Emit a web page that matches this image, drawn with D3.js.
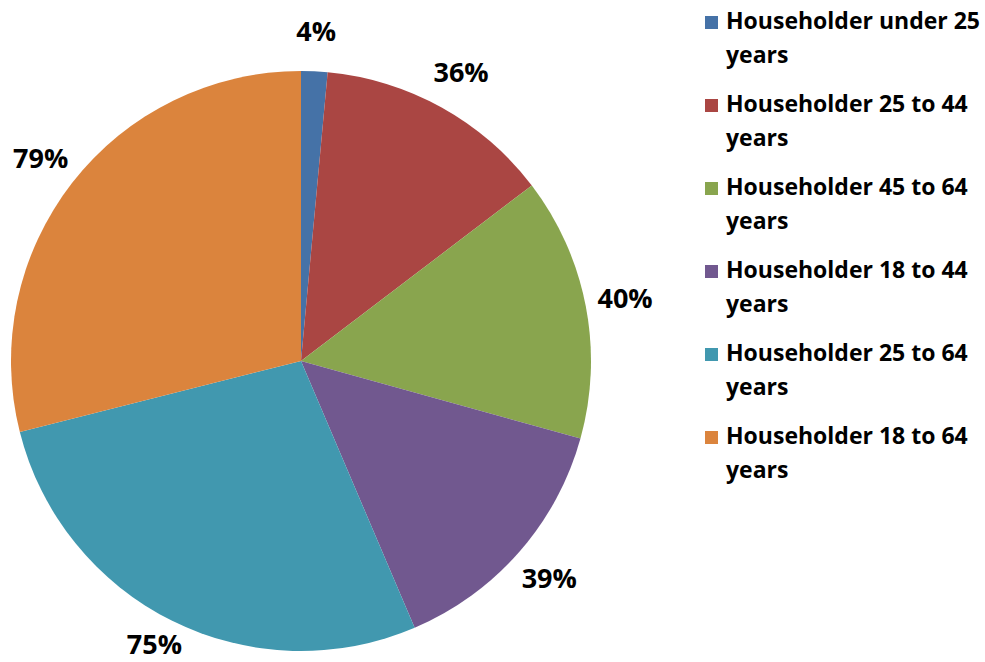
<!DOCTYPE html>
<html>
<head>
<meta charset="utf-8">
<script src="https://cdn.jsdelivr.net/npm/d3@7/dist/d3.min.js"></script>
<style>
  html, body { margin: 0; padding: 0; background: #fff; }
  svg { display: block; }
  text { font-family: "Open Sans", "Liberation Sans", sans-serif; font-weight: bold; fill: #000; }
</style>
</head>
<body>
<svg id="chart" width="985" height="662"></svg>
<script>
const categories = [
  "Householder under 25 years",
  "Householder 25 to 44 years",
  "Householder 45 to 64 years",
  "Householder 18 to 44 years",
  "Householder 25 to 64 years",
  "Householder 18 to 64 years"
];
const values = [4, 36, 40, 39, 75, 79];
const labels = ["4%", "36%", "40%", "39%", "75%", "79%"];
const colors = ["#4572A7", "#AA4643", "#89A54E", "#71588F", "#4198AF", "#DB843D"];

const W = 985, H = 662;
const svg = d3.select("#chart");
const cx = 301, cy = 361, R = 290;

const data = categories.map((c, i) => ({ name: c, value: values[i], label: labels[i], color: colors[i] }));

const pie = d3.pie().value(d => d.value).sort(null);
const arcs = pie(data);
const arc = d3.arc().innerRadius(0).outerRadius(R);
const labelArc = d3.arc().innerRadius(330).outerRadius(330);

const g = svg.append("g").attr("transform", `translate(${cx},${cy})`);
g.selectAll("path").data(arcs).join("path")
  .attr("d", arc)
  .attr("fill", d => d.data.color);

const fs = 27;
g.selectAll("text.lbl").data(arcs).join("text")
  .attr("class", "lbl")
  .attr("text-anchor", "middle")
  .style("font-size", fs + "px")
  .attr("x", d => labelArc.centroid(d)[0])
  .attr("y", d => {
    const base = labelArc.centroid(d)[1] + fs * 0.36;
    const maxBase = H - cy - fs * 0.3;
    return Math.min(base, maxBase);
  })
  .text(d => d.data.label);

// legend
const legend = svg.append("g").attr("transform", "translate(705,0)");
const entryStep = 83, lineStep = 34, firstBase = 29;
const items = legend.selectAll("g").data(data).join("g")
  .attr("transform", (d, i) => `translate(0,${firstBase + i * entryStep})`);
items.append("rect")
  .attr("x", 0).attr("y", -13).attr("width", 13).attr("height", 13)
  .attr("fill", d => d.color);
items.each(function(d) {
  const words = d.name.split(" ");
  const line1 = words.slice(0, -1).join(" ");
  const line2 = words[words.length - 1];
  const t = d3.select(this).append("text").style("font-size", "23px");
  t.append("tspan").attr("x", 21).attr("y", 0).text(line1);
  t.append("tspan").attr("x", 21).attr("y", lineStep).text(line2);
});
</script>
</body>
</html>
